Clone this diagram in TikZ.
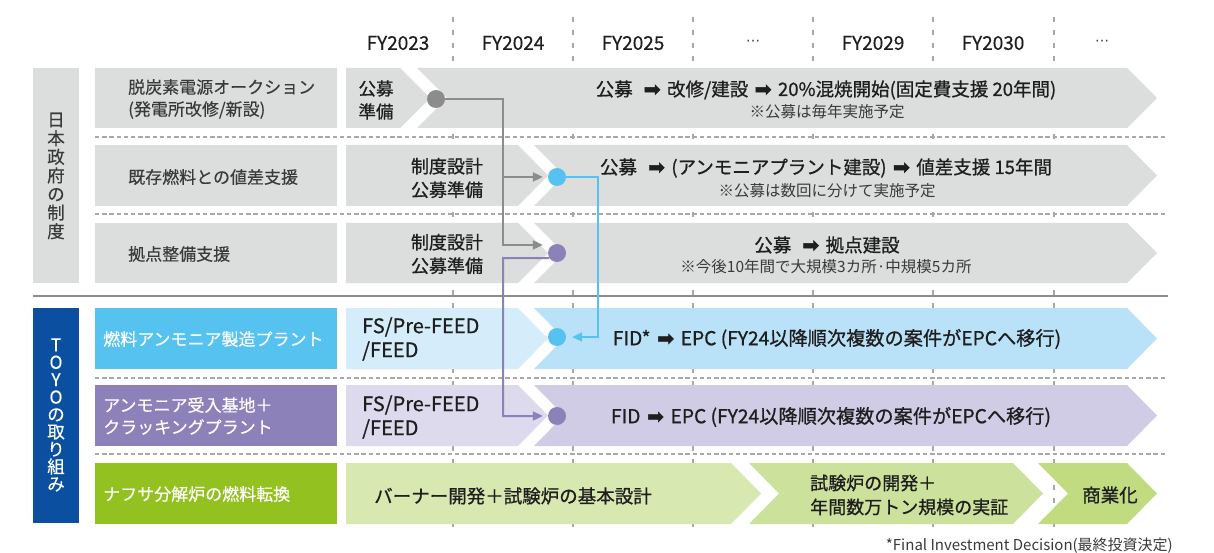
\documentclass[tikz,border=0pt]{standalone}
\usepackage{fontspec}
\setmainfont{Noto Sans CJK JP}
\newfontfamily\arrfont[FakeBold=2.4]{DejaVu Sans}
\newfontfamily\dotsfont{DejaVu Sans}
\newfontfamily\jpmed[FakeBold=0.8]{Noto Sans CJK JP}
\newfontfamily\jplbl[FakeBold=0.3]{Noto Sans CJK JP}
\usetikzlibrary{arrows.meta}
\definecolor{boxgray}{HTML}{DCDDDD}
\definecolor{toyoblue}{HTML}{0A4FA0}
\definecolor{lblue}{HTML}{56C2F0}
\definecolor{lblueA}{HTML}{D5EDFA}
\definecolor{lblueB}{HTML}{B9E1F7}
\definecolor{lpur}{HTML}{8D81BA}
\definecolor{lpurA}{HTML}{DDDAEE}
\definecolor{lpurB}{HTML}{D0CCE6}
\definecolor{lgrn}{HTML}{93C11F}
\definecolor{lgrnA}{HTML}{D8E8B1}
\definecolor{lgrnB}{HTML}{CCE19B}
\definecolor{lgrnC}{HTML}{C1DB80}
\definecolor{conngray}{HTML}{8C8C8C}
\definecolor{gridgray}{HTML}{A8A8A8}
\definecolor{labeltext}{HTML}{3A3A3A}
\definecolor{maintext}{HTML}{1E1E1E}
\newcommand\rarr{\hspace{0.35em}{\arrfont\fontsize{20}{20}\selectfont ➡}\hspace{0.35em}}
\newcommand\firstbox[5]{\fill[#1] (#2,#4) -- (#3,#4) -- ({#3+30},{(#4+#5)/2}) -- (#3,#5) -- (#2,#5) -- cycle;}
\newcommand\nextbox[5]{\fill[#1] (#2,#4) -- (#3,#4) -- ({#3+30},{(#4+#5)/2}) -- (#3,#5) -- (#2,#5) -- ({#2+30},{(#4+#5)/2}) -- cycle;}
\tikzset{
  gridline/.style={draw=gridgray, line width=1.1pt, dash pattern=on 5pt off 8pt},
  sepline/.style={draw=gridgray, line width=1.1pt, dash pattern=on 4.3pt off 2.9pt},
  lbl/.style={anchor=west, inner sep=0, align=left, font=\jplbl\fontsize{17}{22}\selectfont, text=labeltext},
  wlbl/.style={lbl, text=white},
  cat/.style={anchor=center, inner sep=0, align=center, font=\jplbl\fontsize{17.5}{18.6}\selectfont, text=labeltext},
  hdr/.style={anchor=center, inner sep=0, font=\jplbl\fontsize{19}{22}\selectfont, text=maintext},
  main/.style={anchor=center, inner sep=0, align=center, font=\jpmed\fontsize{18.5}{23.5}\selectfont, text=maintext},
  note/.style={anchor=center, inner sep=0, font=\fontsize{15.5}{18}\selectfont, text=labeltext},
  dot/.style={circle, minimum size=18pt, inner sep=0},
  conn/.style={line width=2pt, -{Triangle[length=10pt,width=9pt]}},
}
\begin{document}
\begin{tikzpicture}[x=1pt,y=-1pt]
\useasboundingbox (0,0) rectangle (1214,553);
\fill[white] (0,0) rectangle (1214,553);
% vertical grid
\foreach \gx in {453,573,693,813,933,1054} \draw[gridline] (\gx,17) -- (\gx,527);
% header
\node[hdr] (h1) at (398,43) {FY2023};
\node[hdr] (h2) at (513,43) {FY2024};
\node[hdr] (h3) at (633,43) {FY2025};
\node[hdr, font=\dotsfont\fontsize{14}{16}\selectfont, text=labeltext] (h4) at (753,43) {⋯};
\node[hdr] (h5) at (873,43) {FY2029};
\node[hdr] (h6) at (993,43) {FY2030};
\node[hdr, font=\dotsfont\fontsize{14}{16}\selectfont, text=labeltext] (h7) at (1102,43) {⋯};
% category boxes
\fill[boxgray] (33,68) rectangle (79,283);
\fill[toyoblue] (33,308) rectangle (79,523);
\node[cat] (c1) at (56,176) {日\\本\\政\\府\\の\\制\\度};
\node[cat, text=white, font=\jplbl\fontsize{17.5}{17.4}\selectfont] (c2) at (56,415) {T\\O\\Y\\O\\の\\取\\り\\組\\み};
% label boxes
\fill[boxgray] (95,68) rectangle (337,128);
\fill[boxgray] (95,145) rectangle (337,206);
\fill[boxgray] (95,223) rectangle (337,283);
\fill[lblue] (95,308) rectangle (337,369);
\fill[lpur] (95,385) rectangle (337,446);
\fill[lgrn] (95,463) rectangle (337,524);
% timeline boxes
\firstbox{boxgray}{346}{400}{68}{128}
\nextbox{boxgray}{417}{1127}{68}{128}
\firstbox{boxgray}{346}{518}{145}{206}
\nextbox{boxgray}{534}{1127}{145}{206}
\firstbox{boxgray}{346}{518}{223}{283}
\nextbox{boxgray}{534}{1127}{223}{283}
\firstbox{lblueA}{346}{518}{308}{369}
\nextbox{lblueB}{534}{1127}{308}{369}
\firstbox{lpurA}{346}{518}{385}{446}
\nextbox{lpurB}{534}{1127}{385}{446}
\firstbox{lgrnA}{346}{731}{463}{524}
\nextbox{lgrnB}{749}{1013}{463}{524}
\nextbox{lgrnC}{1038}{1127}{463}{524}
% separators
\draw[sepline] (95,137) -- (1167,137);
\draw[sepline] (95,214) -- (1167,214);
\draw[sepline] (95,378) -- (1167,378);
\draw[sepline] (95,454) -- (1167,454);
\draw[draw=conngray, line width=1.5pt] (33,296) -- (1168,296);
% labels
\node[lbl] (l1) at (128,99) {脱炭素電源オークション\\(発電所改修/新設)};
\node[lbl] (l2) at (128,177) {既存燃料との値差支援};
\node[lbl] (l3) at (128,254) {拠点整備支援};
\node[wlbl] (l4) at (103,339) {燃料アンモニア製造プラント};
\node[wlbl] (l5) at (103,416) {アンモニア受入基地＋\\クラッキングプラント};
\node[wlbl] (l6) at (103,494) {ナフサ分解炉の燃料転換};
% timeline texts
\node[main, font=\jpmed\fontsize{17.5}{23}\selectfont, align=left] (t1a) at (376,100) {公募\\準備};
\node[main] (t1b) at (826,90) {公募\hspace{0.25em}\rarr 改修/建設\rarr 20\%混焼開始(固定費支援 20年間)};
\node[note] (t1c) at (827,112) {※公募は毎年実施予定};
\node[main, font=\jpmed\fontsize{18}{23.5}\selectfont] (t2a) at (447,178) {制度設計\\公募準備};
\node[main] (t2b) at (826,168) {公募\hspace{0.25em}\rarr(アンモニアプラント建設)\rarr 値差支援 15年間};
\node[note] (t2c) at (827,191) {※公募は数回に分けて実施予定};
\node[main, font=\jpmed\fontsize{18}{23.5}\selectfont] (t3a) at (447,254) {制度設計\\公募準備};
\node[main] (t3b) at (827,245) {公募\hspace{0.25em}\rarr 拠点建設};
\node[note] (t3c) at (826,267) {※今後10年間で大規模3カ所·中規模5カ所};
\node[main, anchor=west, align=left, font=\jpmed\fontsize{20}{24}\selectfont] (t4a) at (362,339) {FS/Pre-FEED\\/FEED};
\node[main, font=\jpmed\fontsize{19.2}{23.5}\selectfont] (t4b) at (837,339) {FID*\rarr EPC (FY24以降順次複数の案件がEPCへ移行)};
\node[main, anchor=west, align=left, font=\jpmed\fontsize{20}{24}\selectfont] (t5a) at (362,417) {FS/Pre-FEED\\/FEED};
\node[main, font=\jpmed\fontsize{19.2}{23.5}\selectfont] (t5b) at (831,417) {FID\rarr EPC (FY24以降順次複数の案件がEPCへ移行)};
\node[main] (t6a) at (513,496) {バーナー開発＋試験炉の基本設計};
\node[main, anchor=west, align=left, font=\jpmed\fontsize{18}{24}\selectfont] (t6b) at (810,495) {試験炉の開発＋\\年間数万トン規模の実証};
\node[main] (t6c) at (1110,495) {商業化};
\node[note, anchor=east, font=\fontsize{15}{18}\selectfont] (fn) at (1173,546) {*Final Investment Decision(最終投資決定)};
% dots
\node[dot, fill=conngray] (d1) at (436,99) {};
\node[dot, fill=lblue] (d2) at (557,177) {};
\node[dot, fill=lpur] (d3) at (557,253) {};
\node[dot, fill=lblue] (d4) at (557,337) {};
\node[dot, fill=lpur] (d5) at (557,416) {};
% connectors
\coordinate (gj) at (503,99);
\coordinate (bj) at (598,337);
\coordinate (pj) at (503,258);
\draw[conn, draw=conngray] (d1.east) -- (gj) |- ([xshift=-5pt,yshift=8pt]d3.west);
\draw[conn, draw=conngray] (gj |- d2) -- ([xshift=-5pt]d2.west);
\draw[conn, draw=lblue] (d2.east) -| (bj) -- ([xshift=6pt]d4.east);
\draw[conn, draw=lpur] (d3.214) -- (pj) |- ([xshift=-5pt]d5.west);
\end{tikzpicture}
\end{document}
